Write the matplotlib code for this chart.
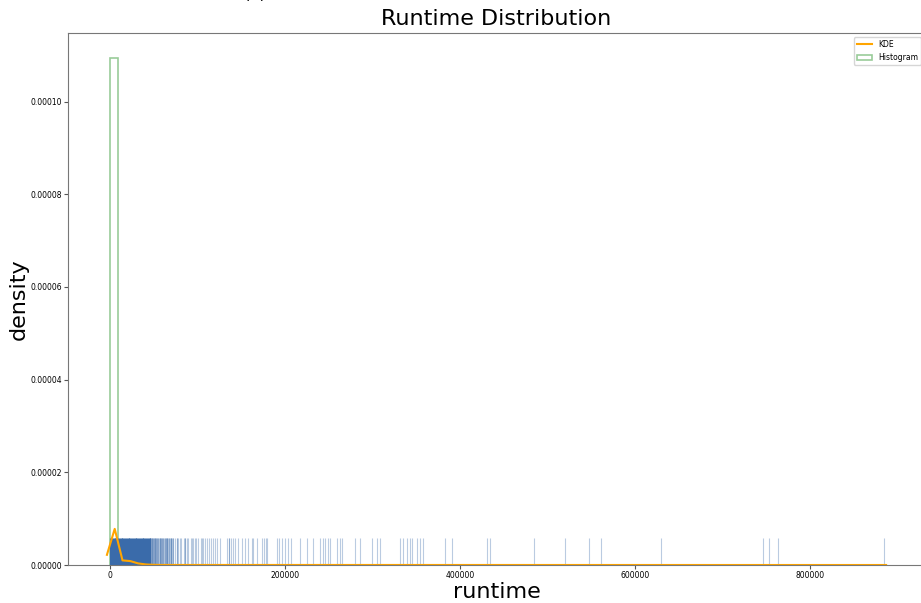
import numpy as np
import matplotlib
matplotlib.use("Agg")
import matplotlib.pyplot as plt
from matplotlib.ticker import FormatStrFormatter
from matplotlib.patches import Patch
from matplotlib.lines import Line2D

# histogram (density, step) - first bins of 100 equal bins over the runtime range
hist_edges = [0, 8850, 17700, 26550, 35400, 44250, 53100, 884600]
hist_heights = [1.093e-4, 1.9e-6, 6e-7, 3e-7, 2e-7, 1e-7, 1e-8]

# KDE curve points
kde_x = [-3800, 5100, 14000, 22900, 31800, 40700, 49600, 58500, 887000]
kde_y = [2.2e-6, 7.8e-6, 1.0e-6, 8.5e-7, 3.5e-7, 1.2e-7, 4e-8, 1e-8, 0.0]

# rug: the band near zero holds thousands of runs
rug_dense = [0, 1000, 2000, 3000, 4000, 5000, 6000, 7000, 8000, 9000,
             10000, 11000, 12000, 13000, 14000, 15000, 16000, 17000, 18000,
             19000, 20000, 21000, 22000, 23000, 24000, 25000, 26000, 27000,
             28000, 29000, 30000, 31000, 32000, 33000, 34000, 35000, 36000,
             37000, 38000, 39000, 40000, 41000, 42000, 43000, 44000, 45000]
rug_sparse = [45700, 45700, 45700, 46500, 46500, 48000, 48000, 48000, 49200,
              49200, 50300, 50300, 51400, 51400, 51400, 52600, 52600, 53700,
              53700, 54900, 54900, 56000, 57100, 57100, 57100, 58300, 58300,
              59400, 59400, 60600, 60600, 61700, 63000, 63000, 64000, 64000,
              65100, 65100, 65100, 66300, 67500, 67500, 68600, 69700, 69700,
              69700, 70900, 72000, 72000, 74300, 76600, 76600, 77700, 80000,
              81100, 84600, 85700, 85700, 88000, 89100, 92600, 93700, 94900,
              97100, 98300, 100600, 104000, 105100, 106300, 108600, 110900,
              113100, 115400, 117700, 120000, 122300, 125700, 133700, 136000,
              136000, 138300, 140600, 142900, 146300, 150900, 154300, 157700,
              162300, 163400, 168000, 173700, 176000, 178300, 179400, 190900,
              193100, 196600, 200000, 203400, 206900, 217100, 225100, 232000,
              240000, 243400, 245700, 249100, 251400, 259400, 262900, 265100,
              280000, 285700, 299400, 305100, 308600, 331400, 334900, 339400,
              342900, 345100, 350900, 354300, 357700, 382900, 390900, 430900,
              434300, 484600, 520000, 547400, 561100, 629700, 746300, 753100,
              763400, 884600]

fig = plt.figure(figsize=(9.21, 6.03), dpi=100)
ax = fig.add_axes([0.0738, 0.063, 0.9306, 0.882])

rug_color = "#3A6BAA"
ax.vlines(rug_dense, 0, 0.05, transform=ax.get_xaxis_transform(),
          color=rug_color, lw=0.8, alpha=1.0)
ax.vlines(rug_sparse, 0, 0.05, transform=ax.get_xaxis_transform(),
          color=rug_color, lw=0.8, alpha=0.35)

ax.plot(kde_x, kde_y, color="orange", lw=1.5)
ax.stairs(hist_heights, hist_edges, fill=False, color="g", alpha=0.4, lw=1.2)

ax.set_ylim(0, None)
ax.yaxis.set_major_formatter(FormatStrFormatter("%.5f"))
ax.tick_params(labelsize=5.5, length=3, pad=1.5, color="#555555")
for s in ax.spines.values():
    s.set_color("#777777")

ax.set_title("Runtime Distribution", fontsize=16)
ax.set_xlabel("runtime", fontsize=16, labelpad=1)
ax.set_ylabel("density", fontsize=16, labelpad=1)

handles = [Line2D([], [], color="orange", lw=1.5),
           Patch(facecolor="none", edgecolor="g", alpha=0.4, lw=1.2)]
ax.legend(handles, ["KDE", "Histogram"], loc="upper right", fontsize=5.5)

# panel label sitting just above the visible area, as in the source
fig.text(255 / 921, 1 + 1 / 603, "(a)", fontsize=12, ha="center", va="baseline")

fig.savefig("out.png", dpi=100)
